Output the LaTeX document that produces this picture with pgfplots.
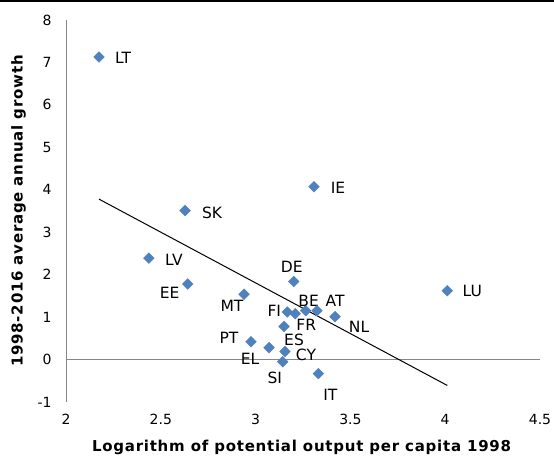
\documentclass[border=0pt]{standalone}
\usepackage{pgfplots}
\pgfplotsset{compat=1.18}
\usepackage{fontspec}
\setmainfont{DejaVu Sans}
\newfontfamily\labfont[LetterSpace=5]{DejaVu Sans}
\definecolor{ptblue}{HTML}{4F81BD}
\definecolor{axgray}{HTML}{868686}

\pgfplotstableread{
x     y     lbl dx  dy
2.174 7.13  LT  24  -1
2.628 3.51  SK  27  -2
3.308 4.07  IE  24  -1
2.437 2.39  LV  25  -2
4.011 1.62  LU  25  0
2.642 1.78  EE  -18 -9
2.939 1.54  MT  -12 -12
3.201 1.84  DE  -2  15
3.167 1.12  FI  -13 1
3.209 1.08  FR  11  -11
3.264 1.15  BE  3   10
3.324 1.15  AT  18  10
3.419 1.01  NL  24  -10
3.150 0.78  ES  10  -13
2.976 0.42  PT  -22 4
3.071 0.28  EL  -19 -11
3.155 0.19  CY  21  -3
3.143 -0.05 SI  -8  -16
3.331 -0.33 IT  12  -21
}\countries

\begin{document}
\begin{tikzpicture}
\path[use as bounding box] (-66pt,-55pt) rectangle (488pt,402pt);
\draw[line width=1.5pt] (-66pt,401pt) -- (488pt,401pt);
\begin{axis}[
  at={(0,0)}, anchor=south west,
  scale only axis, width=474pt, height=382pt,
  xmin=2, xmax=4.5, ymin=-1, ymax=8,
  xtick={2,2.5,...,4.5}, ytick={-1,0,...,8},
  axis lines*=left,
  x axis line style={draw=none},
  y axis line style={axgray, line width=0.8pt},
  major tick length=0pt,
  /pgf/number format/assume math mode=true,
  tick label style={font=\fontsize{14}{16}\selectfont},
  xticklabel style={anchor=north, yshift=-9pt},
  yticklabel style={anchor=east, xshift=-11pt},
  xlabel={Logarithm of potential output per capita 1998},
  ylabel={1998-2016 average annual growth},
  label style={font=\labfont\bfseries\fontsize{15}{17}\selectfont},
  xlabel style={at={([yshift=-45pt]axis description cs:0.497,0)}, anchor=center},
  ylabel style={at={([xshift=-47.5pt]axis description cs:0,0.5)}, anchor=center},
  clip=false,
]
\draw[axgray, line width=0.8pt] (axis cs:2,0) -- (axis cs:4.5,0);
\addplot[black, line width=1pt] coordinates {(2.174,3.78) (4.011,-0.61)};
\addplot[only marks, mark=square*, mark size=3.8pt,
  mark options={rotate=45, fill=ptblue, draw=ptblue},
  nodes near coords, point meta=explicit symbolic,
  visualization depends on={\thisrow{dx}\as\dx},
  visualization depends on={\thisrow{dy}\as\dy},
  every node near coord/.append style={anchor=center, xshift=\dx pt, yshift=\dy pt,
    font=\fontsize{15.5}{17}\selectfont, text=black}]
  table[x=x, y=y, meta=lbl] {\countries};
\end{axis}
\end{tikzpicture}
\end{document}
